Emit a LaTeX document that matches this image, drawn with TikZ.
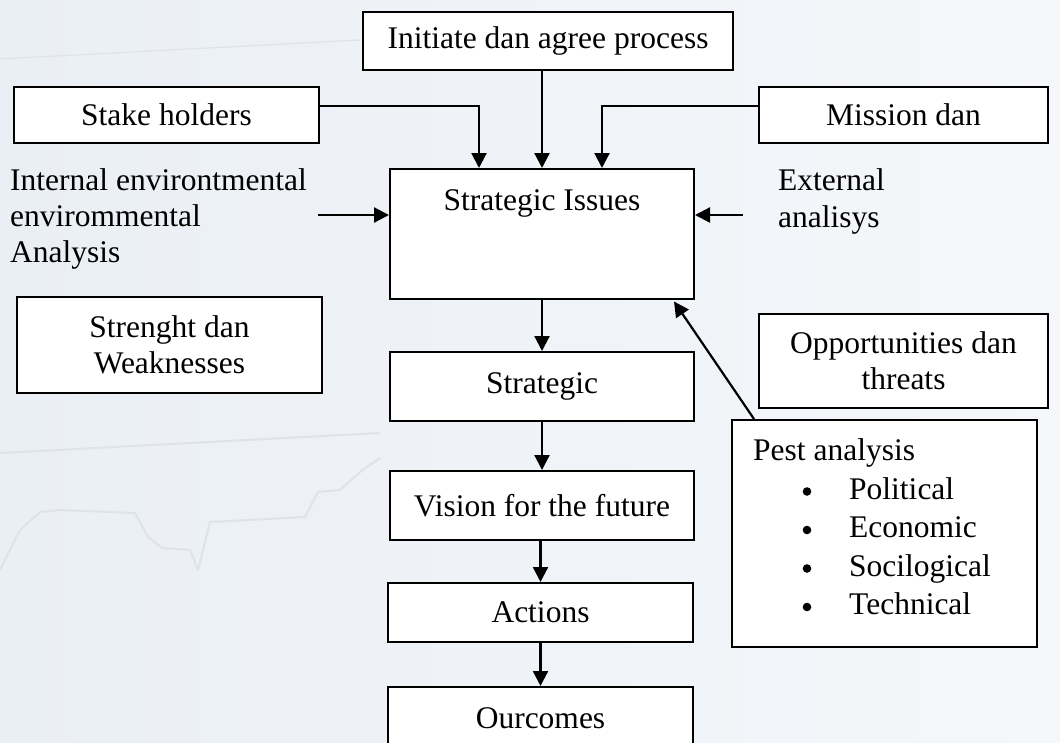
\documentclass[tikz,border=0pt]{standalone}
\usepackage{fontspec}
\setmainfont{Liberation Serif}
\usetikzlibrary{arrows.meta,calc}
\newcommand{\diafont}{\fontsize{31.5}{36}\selectfont}
\definecolor{bgL}{RGB}{234,239,245}
\definecolor{bgR}{RGB}{245,247,250}
\definecolor{faint}{RGB}{222,226,233}
\begin{document}
\begin{tikzpicture}[x=1pt,y=-1pt,
  box/.style={draw=black,fill=white,line width=2pt,inner sep=0pt,align=center,font=\diafont},
  arr/.style={line width=2.2pt,-{Triangle[width=15pt,length=15pt]}},
  lbl/.style={inner sep=0pt,font=\diafont},
  item/.style={lbl,anchor=base west},
  bgline/.style={faint,line width=2pt,line join=round}]
\useasboundingbox (0,0) rectangle (1060,742);
\clip (0,0) rectangle (1060,742);
\shade[left color=bgL,right color=bgR] (0,0) rectangle (1060,742);
% faint background chart
\draw[bgline] (0,453) -- (380,433);
\draw[bgline] (0,570) -- (20,530) -- (40,512) -- (60,510) -- (135,513) -- (148,537) -- (162,548) -- (190,550) -- (198,570) -- (210,522) -- (305,517) -- (318,492) -- (340,490) -- (360,472) -- (380,458);
\draw[bgline,line width=1.2pt] (-20,60) -- (360,40);

% boxes
\node[box,minimum width=370,minimum height=58] (init) at (548,41) {Initiate dan agree process};
\node[box,minimum width=305,minimum height=56] (stake) at (166.5,115) {Stake holders};
\node[box,minimum width=289,minimum height=56] (mission) at (903.5,115) {Mission dan};
\node[box,minimum width=304,minimum height=130] (si) at (542,234) {};
\node[lbl] (sit) at (542,203) {Strategic Issues};
\node[box,minimum width=305,minimum height=96] (sw) at (169.5,345) {Strenght dan\\Weaknesses};
\node[box,minimum width=289,minimum height=94] (ot) at (903.5,361) {Opportunities dan\\threats};
\node[box,minimum width=304,minimum height=69] (strat) at (542,386.5) {Strategic};
\node[box,minimum width=304,minimum height=69] (vision) at (542,505.5) {Vision for the future};
\node[box,minimum width=305,minimum height=59] (actions) at (540.5,612.5) {Actions};
\node[box,minimum width=305,minimum height=66,anchor=north] (outc) at (540.5,686) {};
\node[lbl] (outct) at (540.5,718) {Ourcomes};
\node[box,minimum width=305,minimum height=227] (pest) at (884.5,533.5) {};

% pest contents
\node[item] (p0) at (753,460) {Pest analysis};
\node[item] (p1) at (849,499) {Political};
\node[item] (p2) at (849,537.5) {Economic};
\node[item] (p3) at (849,576) {Socilogical};
\node[item] (p4) at (849,614.5) {Technical};
\foreach \yy in {491.5,530,568.5,607}
  \fill (807,\yy) circle (4.3);

% free labels
\node[item] (in1) at (10,190) {Internal environtmental};
\node[item] (in2) at (10,226) {envirommental};
\node[item] (in3) at (10,262) {Analysis};
\node[item] (ex1) at (778,190) {External};
\node[item] (ex2) at (778,227) {analisys};

\coordinate (inA) at (318,215);
\coordinate (exA) at (743,215);

% connectors
\draw[arr] (si.north |- init.south) -- (si.north);
\draw[arr] ([yshift=9pt]stake.east) -| ([xshift=-63pt]si.north);
\draw[arr] ([yshift=9pt]mission.west) -| ([xshift=60pt]si.north);
\draw[arr] (inA) -- (inA -| si.west);
\draw[arr] (exA) -- (exA -| si.east);
\draw[arr] ([xshift=23pt]pest.north west) -- ([xshift=-21pt,yshift=-1.5pt]si.south east);
\draw[arr] (si.south) -- (strat.north);
\draw[arr] (strat.south) -- (vision.north);
\draw[arr] (actions.north |- vision.south) -- (actions.north);
\draw[arr] (actions.south) -- (outc.north);
\end{tikzpicture}
\end{document}
